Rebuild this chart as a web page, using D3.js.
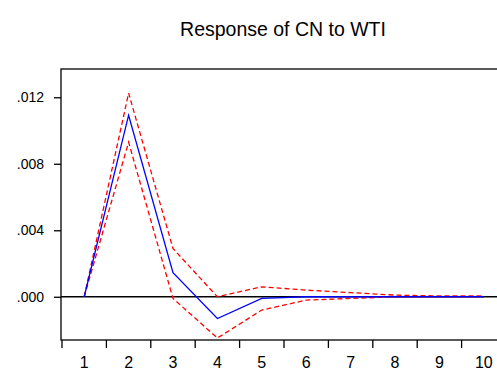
<!DOCTYPE html>
<html>
<head>
<meta charset="utf-8">
<script src="https://cdn.jsdelivr.net/npm/d3@7"></script>
<style>
  body { margin: 0; background: #fff; }
  text { font-family: "Liberation Sans", Arial, sans-serif; fill: #000; }
</style>
</head>
<body>
<svg id="chart" width="497" height="370"></svg>
<script>
// Donnees.
const periods = [1, 2, 3, 4, 5, 6, 7, 8, 9, 10];
const response = [0, 0.01092, 0.00145, -0.00131, -0.0001, 0, 0, 0, 0, 0];
const upperBand = [0, 0.01225, 0.0029, 0.0000, 0.0006, 0.0004, 0.00025, 0.0001, 0.00005, 0.00005];
const lowerBand = [0, 0.0093, -0.0001, -0.00248, -0.0008, -0.0002, -0.0001, 0, 0, 0];
const yTicks = [0, 0.004, 0.008, 0.012];
const yTickLabels = [".000", ".004", ".008", ".012"];

const svg = d3.select("#chart");
const margin = { left: 61, top: 69, right: 506, bottom: 340 };

const x = d3.scaleBand()
    .domain(periods)
    .range([margin.left + 1, margin.right])
    .padding(0);

const y = d3.scaleLinear()
    .domain([-0.0026, 0.0137])
    .range([margin.bottom, margin.top]);

function cx(d) { return x(d) + x.bandwidth() / 2; }

// Titre.
svg.append("text")
    .attr("x", 283)
    .attr("y", 36)
    .attr("text-anchor", "middle")
    .style("font-size", "19.5px")
    .text("Response of CN to WTI");

// Cadre (la partie droite sort de l'image).
svg.append("rect")
    .attr("x", margin.left)
    .attr("y", margin.top)
    .attr("width", margin.right - margin.left)
    .attr("height", margin.bottom - margin.top)
    .attr("fill", "none")
    .attr("stroke", "#000")
    .attr("stroke-width", 1.3);

// Axe Y.
const yAxis = d3.axisLeft(y)
    .tickValues(yTicks)
    .tickSize(7)
    .tickPadding(10)
    .tickFormat(function(d, i) { return yTickLabels[i]; });

const gy = svg.append("g")
    .attr("transform", "translate(" + margin.left + ",0)")
    .call(yAxis);
gy.select(".domain").remove();
gy.selectAll("line").attr("stroke", "#000").attr("stroke-width", 1.3);
gy.selectAll("text").style("font-size", "14px");

// Axe X : traits aux limites des categories, libelles au centre.
const boundaries = periods.map(function(d) { return x(d); });
svg.append("g")
    .selectAll("line")
    .data(boundaries)
    .enter()
    .append("line")
    .attr("x1", function(d) { return d; })
    .attr("x2", function(d) { return d; })
    .attr("y1", margin.bottom)
    .attr("y2", margin.bottom + 8)
    .attr("stroke", "#000")
    .attr("stroke-width", 1.3);

svg.append("g")
    .selectAll("text")
    .data(periods)
    .enter()
    .append("text")
    .attr("x", cx)
    .attr("y", 368)
    .attr("text-anchor", "middle")
    .style("font-size", "16px")
    .text(function(d) { return d; });

// Ligne zero.
svg.append("line")
    .attr("x1", margin.left)
    .attr("x2", margin.right)
    .attr("y1", y(0))
    .attr("y2", y(0))
    .attr("stroke", "#000")
    .attr("stroke-width", 1.3);

const line = d3.line()
    .x(function(d, i) { return cx(periods[i]); })
    .y(function(d) { return y(d); });

// Bandes de confiance.
[upperBand, lowerBand].forEach(function(band) {
    svg.append("path")
        .datum(band)
        .attr("d", line)
        .attr("fill", "none")
        .attr("stroke", "#ff0000")
        .attr("stroke-width", 1.3)
        .attr("stroke-dasharray", "5,3");
});

// Reponse.
svg.append("path")
    .datum(response)
    .attr("d", line)
    .attr("fill", "none")
    .attr("stroke", "#0000ff")
    .attr("stroke-width", 1.3);
</script>
</body>
</html>
